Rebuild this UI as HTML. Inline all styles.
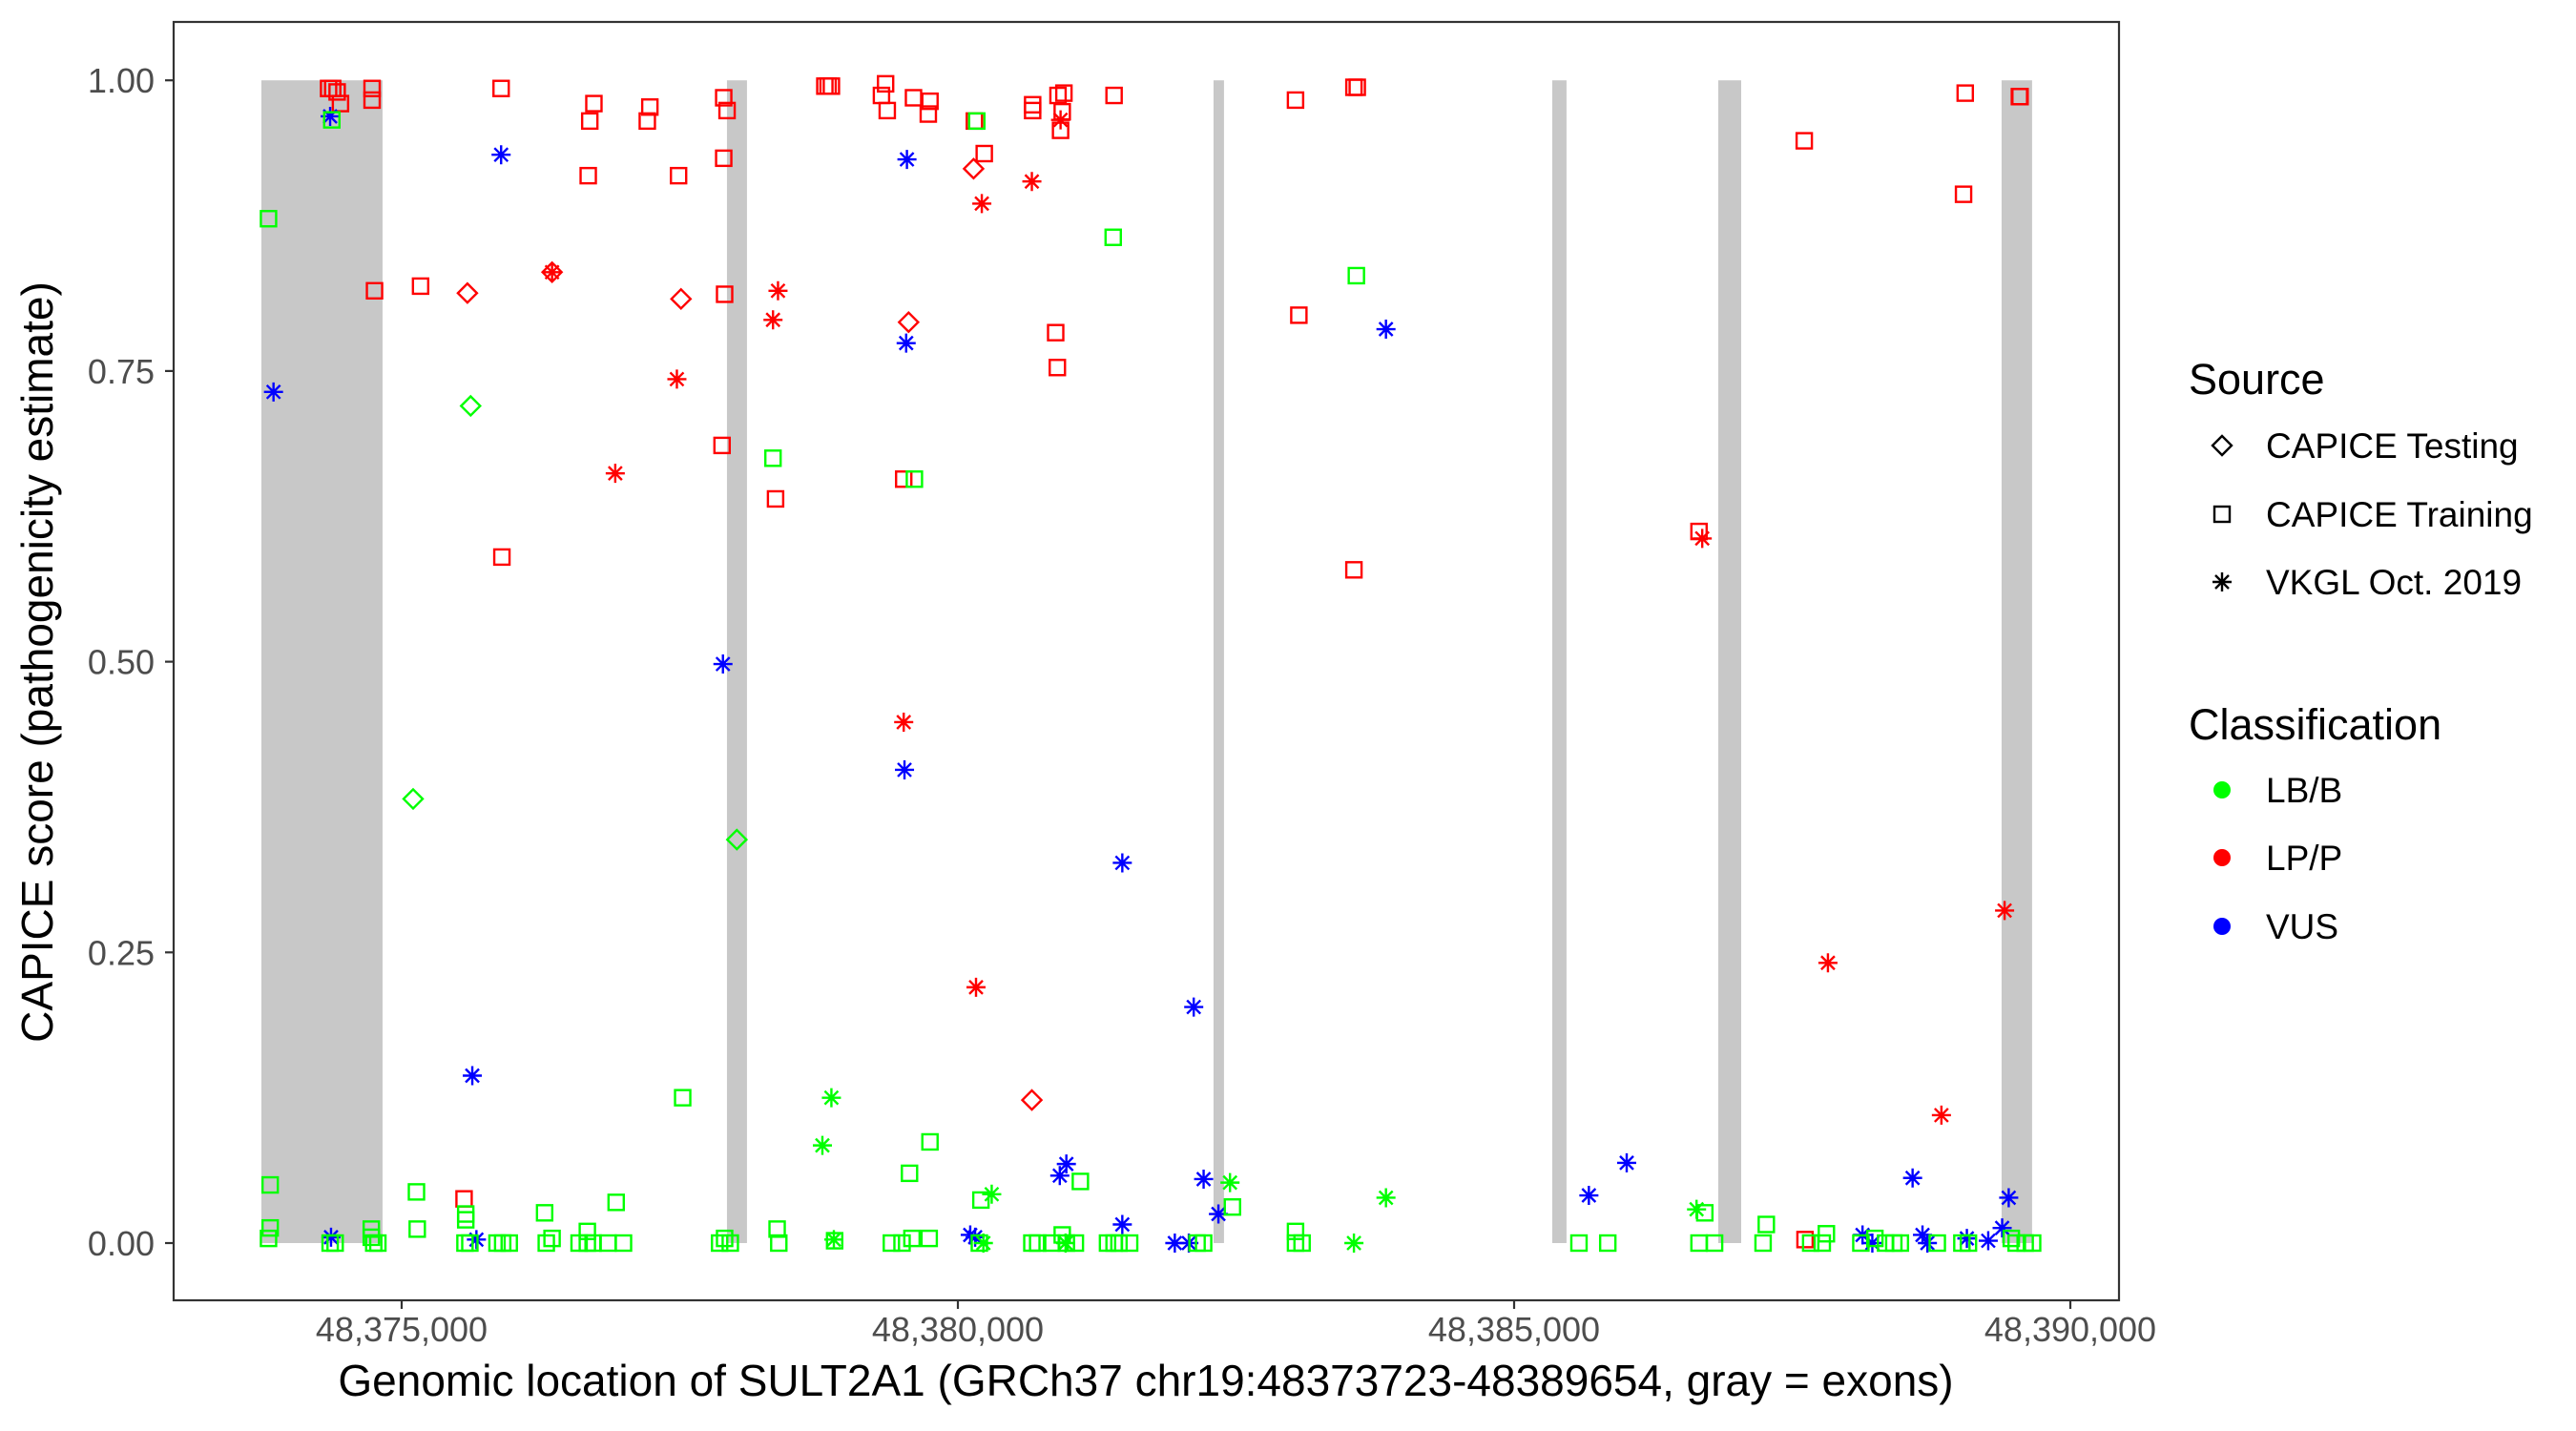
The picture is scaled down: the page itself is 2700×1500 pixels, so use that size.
<!DOCTYPE html>
<html><head><meta charset="utf-8"><style>
html,body{margin:0;padding:0;background:#fff;}
svg{display:block;font-family:"Liberation Sans",Arial,sans-serif;}
</style></head><body>
<svg id="chart" width="2700" height="1500" viewBox="0 0 2700 1500" xmlns="http://www.w3.org/2000/svg">
<rect x="0" y="0" width="2700" height="1500" fill="#fff"/>
<g id="exons"></g>
<g id="points"></g>
<rect x="182" y="23" width="2039" height="1340" fill="none" stroke="#333" stroke-width="2.2"/>
<g id="axes"></g>
<text x="1201" y="1463" font-size="46" text-anchor="middle" fill="#000">Genomic location of SULT2A1 (GRCh37 chr19:48373723-48389654, gray = exons)</text>
<text transform="translate(55,694) rotate(-90)" font-size="46" text-anchor="middle" fill="#000">CAPICE score (pathogenicity estimate)</text>
<g id="legend">
<text x="2294" y="413" font-size="45">Source</text>
<text x="2294" y="775" font-size="45">Classification</text>
</g>
</svg>
<script>
const exonStarts=[48373739,48377924,48382298,48385343,48386835,48389382];
const exonEnds=[48374828,48378104,48382392,48385471,48387041,48389656];
const xTicks=[48375000,48380000,48385000,48390000];
const xTickLabels=["48,375,000","48,380,000","48,385,000","48,390,000"];
const yTicks=[0,0.25,0.5,0.75,1];
const yTickLabels=["0.00","0.25","0.50","0.75","1.00"];
// shape: d=CAPICE Testing, s=CAPICE Training, a=VKGL; class: B=LB/B, P=LP/P, V=VUS
const ptPos=[
48374343,48374380,48374420,48374450,48374734,48374734,48374756,48375170,48375894,48375901,48376728,48376691,48376677,48377231,48377208,48377489,48377895,48377925,48377895,48377903,48377880,48378361,48378804,48378833,48378863,48379313,48379350,48379365,48379601,48379749,48379734,48379513,48380148,48380237,48380672,48380672,48380900,48380953,48380938,48380923,48380879,48380894,48381404,48375561,48383035,48383560,48383590,48383065,48383560,48386662,48387608,48389055,48389040,48389542,48389548,48387615,
48375591,48376352,48377511,48379557,48380141,48380665,
48376352,48376920,48377474,48378383,48378338,48379513,48380215,48380163,48380665,48380923,48386691,48387821,48388841,48389409,
48374357,48373848,48374365,48375894,48375635,48375672,48377888,48379542,48379535,48379520,48380111,48380155,48380916,48380975,48381478,48381478,48382120,48381950,48382076,48382209,48382342,48383848,48385672,48386012,48388132,48388220,48388582,48388671,48388715,48389070,48389262,48389387,48389446,
48373803,48373818,48373818,48373803,48374372,48374357,48374402,48374727,48374749,48374786,48374727,48375133,48375140,48375576,48375576,48375569,48375613,48375857,48375908,48375967,48376285,48376300,48376352,48376595,48376669,48376669,48376721,48376854,48376994,48376928,48377526,48377858,48377903,48377954,48378338,48378375,48378390,48378892,48379402,48379498,48379587,48379742,48379609,48379565,48379749,48380170,48380207,48380193,48380665,48380717,48380842,48380938,48380975,48381056,48381101,48381396,48381345,48381404,48381448,48381544,48382150,48382209,48382468,48383035,48383035,48383094,48383582,48385583,48385842,48386662,48386714,48386802,48387238,48387267,48387666,48387770,48387807,48388117,48388243,48388339,48388413,48388472,48388804,48389025,48389084,48389469,48389513,48389594,48389661,
48375620,48375103,48378013,
48378863,48378782,48378885,48380304,48380229,48380968,48382446,48383848,48383560,48386640
];
const ptScore=[
0.993,0.993,0.99,0.98,0.993,0.983,0.819,0.823,0.993,0.59,0.98,0.965,0.918,0.977,0.965,0.918,0.985,0.974,0.933,0.816,0.686,0.64,0.995,0.995,0.995,0.987,0.997,0.974,0.985,0.982,0.971,0.657,0.965,0.937,0.979,0.974,0.987,0.989,0.973,0.957,0.783,0.753,0.987,0.038,0.983,0.994,0.994,0.798,0.579,0.612,0.948,0.989,0.902,0.986,0.986,0.003,
0.817,0.835,0.812,0.792,0.924,0.123,
0.835,0.662,0.743,0.819,0.794,0.448,0.894,0.22,0.913,0.966,0.606,0.241,0.11,0.286,
0.969,0.732,0.005,0.936,0.144,0.003,0.498,0.932,0.774,0.407,0.007,0.005,0.058,0.068,0.327,0.016,0.203,0,0,0.055,0.025,0.786,0.041,0.069,0.007,0,0.056,0.007,0,0.004,0.002,0.013,0.039,
0.881,0.05,0.013,0.004,0.966,0,0,0.012,0,0,0.005,0.044,0.012,0.025,0.02,0,0,0,0,0,0.026,0,0.004,0,0.01,0,0,0,0,0.035,0.125,0,0.004,0,0.675,0.012,0,0.002,0,0,0.004,0.004,0.657,0.06,0.087,0.965,0.037,0,0,0,0,0.007,0,0,0.053,0.865,0,0,0,0,0,0,0.031,0.01,0,0,0.832,0,0,0,0.026,0,0,0.016,0,0,0.008,0,0.004,0,0,0,0,0,0,0.004,0,0,0,
0.72,0.382,0.347,
0.125,0.084,0.003,0.042,0,0,0.052,0.039,0,0.029
];
const ptShape=("s".repeat(56)+"d".repeat(6)+"a".repeat(14)+"a".repeat(33)+"s".repeat(89)+"d".repeat(3)+"a".repeat(10)).split("");
const ptClass=("P".repeat(56)+"P".repeat(6)+"P".repeat(14)+"V".repeat(33)+"B".repeat(89)+"B".repeat(3)+"B".repeat(10)).split("");

const NS="http://www.w3.org/2000/svg";
const colors={B:"#00ff00",P:"#ff0000",V:"#0000ff"};
function X(bp){return 421+(bp-48375000)*583/5000;}
function Y(s){return 1303-s*1218.8;}
function mk(tag,attrs,parent){const e=document.createElementNS(NS,tag);for(const k in attrs)e.setAttribute(k,attrs[k]);parent.appendChild(e);return e;}

const gEx=document.getElementById('exons');
for(let i=0;i<exonStarts.length;i++){
  const r=mk('rect',{x:X(exonStarts[i]),y:Y(1),width:X(exonEnds[i])-X(exonStarts[i]),height:Y(0)-Y(1),fill:'#c8c8c8'},gEx);
  
  
}
function drawMarker(shape,cx,cy,col,parent){
  let e;
  if(shape==='s'){
    e=mk('rect',{x:cx-8,y:cy-8,width:16,height:16,fill:'none',stroke:col,'stroke-width':2.4},parent);
  }else if(shape==='d'){
    e=mk('path',{d:`M${cx} ${cy-10}L${cx+10} ${cy}L${cx} ${cy+10}L${cx-10} ${cy}Z`,fill:'none',stroke:col,'stroke-width':2.4},parent);
  }else{
    const r=10,d=7;
    e=mk('path',{d:`M${cx-r} ${cy}H${cx+r}M${cx-d} ${cy-d}L${cx+d} ${cy+d}M${cx-d} ${cy+d}L${cx+d} ${cy-d}M${cx} ${cy-r}V${cy+r}`,fill:'none',stroke:col,'stroke-width':2.4},parent);
  }
  return e;
}
const gP=document.getElementById('points');
for(let i=0;i<ptPos.length;i++){
  const e=drawMarker(ptShape[i],X(ptPos[i]),Y(ptScore[i]),colors[ptClass[i]],gP);
  
  
}
const gA=document.getElementById('axes');
xTicks.forEach((t,i)=>{
  const l=mk('line',{x1:X(t),x2:X(t),y1:1363,y2:1372,stroke:'#333','stroke-width':2.2},gA);
  
  
  const tx=mk('text',{x:X(t),y:1406,'font-size':36,'text-anchor':'middle',fill:'#4d4d4d'},gA);
  tx.textContent=xTickLabels[i];
  
  
});
yTicks.forEach((t,i)=>{
  const l=mk('line',{x1:173,x2:182,y1:Y(t),y2:Y(t),stroke:'#333','stroke-width':2.2},gA);
  
  
  const tx=mk('text',{x:162,y:Y(t)+13,'font-size':36,'text-anchor':'end',fill:'#4d4d4d'},gA);
  tx.textContent=yTickLabels[i];
  
  
});
const gL=document.getElementById('legend');
const srcLabels=["CAPICE Testing","CAPICE Training","VKGL Oct. 2019"];
const srcShapes=["d","s","a"];
const srcY=[467,539,610];
srcLabels.forEach((s,i)=>{
  const m=drawMarker(srcShapes[i],2329,srcY[i],'#000',gL);
  
  
  const t=mk('text',{x:2375,y:srcY[i]+13,'font-size':37},gL);
  t.textContent=s;
  
  
});
const clsLabels=["LB/B","LP/P","VUS"];
const clsKeys=["B","P","V"];
const clsY=[828,899,971];
clsLabels.forEach((s,i)=>{
  const c=mk('circle',{cx:2329,cy:clsY[i],r:9,fill:colors[clsKeys[i]]},gL);
  
  
  const t=mk('text',{x:2375,y:clsY[i]+13,'font-size':37},gL);
  t.textContent=s;
  
  
});
</script>
</body></html>
